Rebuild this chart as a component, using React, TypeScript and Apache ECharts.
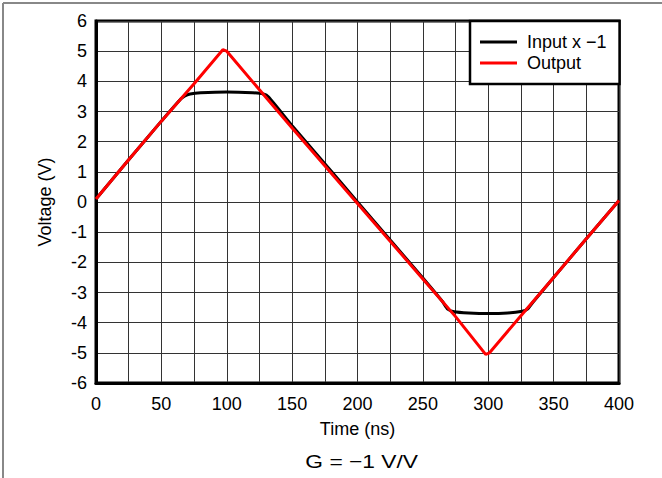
import React, { useEffect, useRef } from "react";
import * as echarts from "echarts";

const FONT = '"Liberation Sans", Arial, Helvetica, sans-serif';

// Output (red)
const outputTime = [0, 25, 50, 75, 97, 100, 125, 150, 175, 200, 225, 250, 275, 298, 301, 325, 350, 375, 400];
const outputVolt = [0.1, 1.4, 2.68, 3.92, 5.05, 5.0, 3.72, 2.45, 1.2, -0.05, -1.3, -2.55, -3.8, -5.05, -5.0, -3.77, -2.5, -1.22, 0.05];

// Input x -1 (black)
const inputTime = [0, 25, 50, 65, 68, 72, 80, 100, 120, 128, 132, 150, 175, 200, 225, 250, 265, 269, 274, 285, 300, 315, 326, 330, 334, 350, 375, 400];
const inputVolt = [0.1, 1.4, 2.68, 3.42, 3.52, 3.58, 3.62, 3.65, 3.62, 3.58, 3.48, 2.53, 1.27, 0.0, -1.26, -2.52, -3.3, -3.55, -3.64, -3.68, -3.7, -3.68, -3.62, -3.55, -3.33, -2.5, -1.22, 0.05];

const seriesNames = ["Input x \u22121", "Output"];
const gainLabel = "G = \u22121 V/V";

const pairs = (xs: number[], ys: number[]) => xs.map((x, i) => [x, ys[i]]);

export default function App() {
  const ref = useRef<HTMLDivElement>(null);
  useEffect(() => {
    if (!ref.current) return;
    const chart = echarts.init(ref.current, undefined, { renderer: "svg" });
    const gridLine = { show: true, lineStyle: { color: "#333", width: 1 } };
    chart.setOption({
      animation: false,
      textStyle: { fontFamily: FONT },
      grid: {
        left: 96,
        right: 43,
        top: 21,
        bottom: 95,
        show: true,
        borderColor: "#000",
        borderWidth: 3,
        backgroundColor: "#fff",
      },
      xAxis: {
        type: "value",
        min: 0,
        max: 400,
        interval: 25,
        axisLine: { show: true, onZero: false, lineStyle: { color: "#000", width: 3 } },
        axisTick: { show: false },
        splitLine: gridLine,
        axisLabel: {
          formatter: (v: number) => (v % 50 === 0 ? String(v) : ""),
          color: "#000",
          fontSize: 18,
          margin: 12,
          fontFamily: FONT,
        },
        name: "Time (ns)",
        nameLocation: "middle",
        nameGap: 37,
        nameTextStyle: { fontSize: 18, color: "#000", fontFamily: FONT },
      },
      yAxis: {
        type: "value",
        min: -6,
        max: 6,
        interval: 1,
        axisLine: { show: true, onZero: false, lineStyle: { color: "#000", width: 3 } },
        axisTick: { show: false },
        splitLine: gridLine,
        axisLabel: { color: "#000", fontSize: 18, margin: 9, fontFamily: FONT },
        name: "Voltage (V)",
        nameLocation: "middle",
        nameGap: 42,
        nameTextStyle: { fontSize: 18, color: "#000", fontFamily: FONT },
      },
      legend: {
        left: 470,
        top: 21,
        orient: "vertical",
        padding: [12, 13, 12, 10],
        itemGap: 3,
        itemWidth: 37,
        itemHeight: 3,
        icon: "rect",
        backgroundColor: "#fff",
        borderColor: "#000",
        borderWidth: 2.5,
        textStyle: { fontSize: 18, color: "#000", fontFamily: FONT, padding: [0, 0, 0, 5] },
        data: seriesNames,
      },
      series: [
        {
          name: seriesNames[0],
          type: "line",
          data: pairs(inputTime, inputVolt),
          symbol: "none",
          smooth: 0.2,
          color: "#000",
          lineStyle: { color: "#000", width: 3 },
          z: 3,
        },
        {
          name: seriesNames[1],
          type: "line",
          data: pairs(outputTime, outputVolt),
          symbol: "none",
          color: "#ff0000",
          lineStyle: { color: "#ff0000", width: 3 },
          z: 4,
        },
      ],
      graphic: [
        { type: "line", shape: { x1: 3, y1: 3, x2: 662, y2: 3 }, style: { stroke: "#888", lineWidth: 2 } },
        { type: "line", shape: { x1: 3, y1: 3, x2: 3, y2: 478 }, style: { stroke: "#888", lineWidth: 2 } },
        {
          type: "text",
          x: 361.7,
          y: 461.7,
          scaleX: 1.2,
          style: {
            text: gainLabel,
            fontSize: 19,
            fontFamily: FONT,
            fill: "#000",
            align: "center",
            verticalAlign: "middle",
            textAlign: "center",
            textVerticalAlign: "middle",
          },
        },
      ],
    });
    return () => chart.dispose();
  }, []);
  return (
    <div
      ref={ref}
      style={{ position: "fixed", left: 0, top: 0, width: 662, height: 478, background: "#fff" }}
    />
  );
}
